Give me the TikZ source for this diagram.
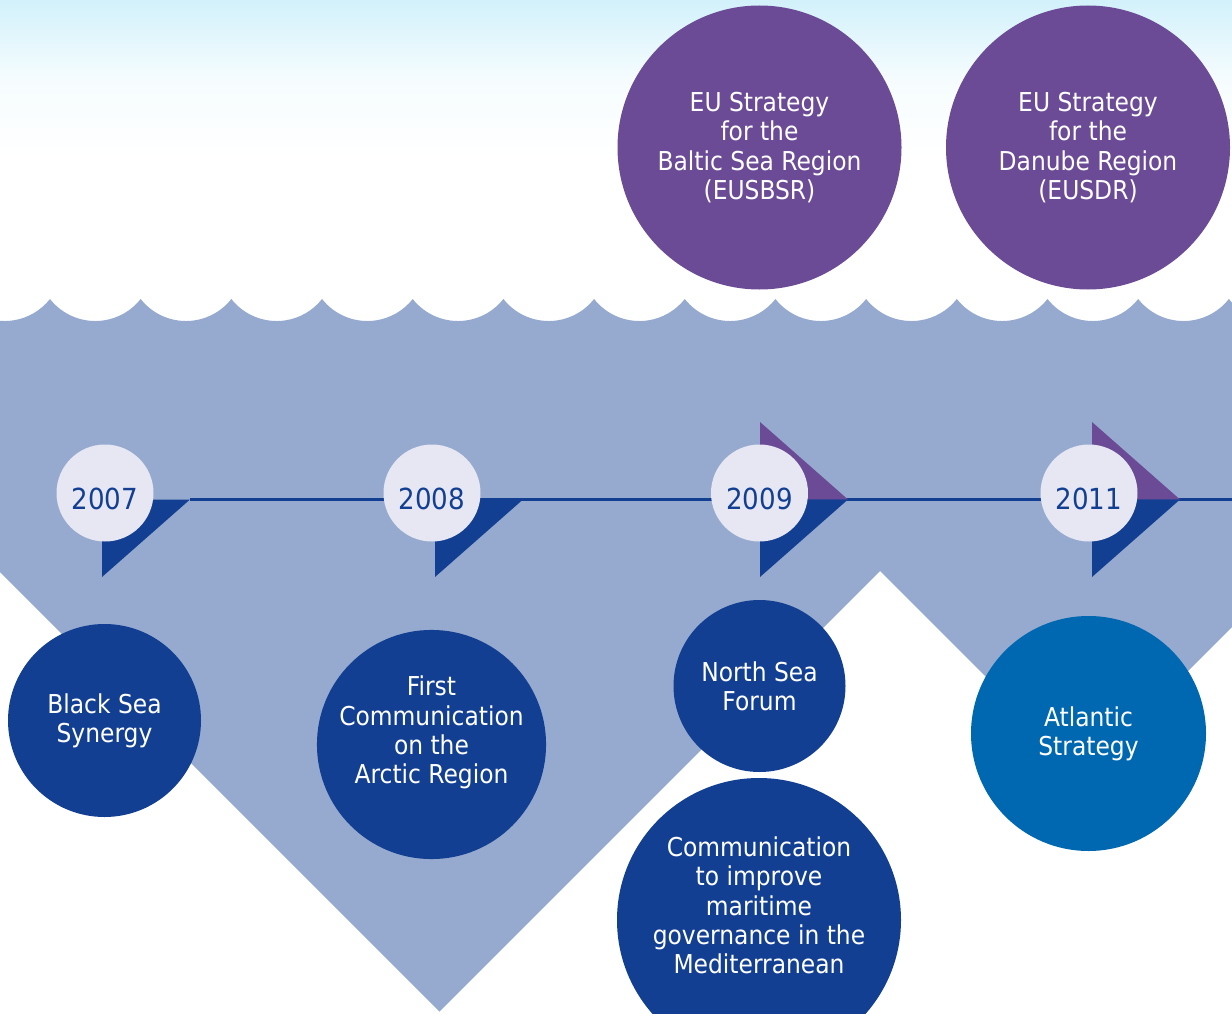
\documentclass[tikz,border=0pt]{standalone}
\usepackage{fontspec}
\setmainfont{DejaVu Sans Condensed}
\usetikzlibrary{positioning}

\definecolor{sky}{HTML}{D2F1FB}
\definecolor{sea}{HTML}{96AACF}
\definecolor{deepblue}{HTML}{133F92}
\definecolor{eupurple}{HTML}{6B4B96}
\definecolor{yearfill}{HTML}{E6E7F3}
\definecolor{atlantic}{HTML}{0067B1}

\begin{document}
\begin{tikzpicture}[
    x=1pt,y=-1pt,
    year/.style={circle,fill=yearfill,inner sep=0pt,minimum size=97pt,
      text=deepblue,text height=32pt,text depth=0pt,font=\fontsize{29}{32}\selectfont},
    event/.style={circle,fill=deepblue,inner sep=0pt,text=white,align=center,
      font=\fontsize{26}{29.3}\selectfont},
    timeline/.style={draw=deepblue,line width=3pt}
    ]

    \useasboundingbox (0,0) rectangle (1232,1014);
    \clip (0,0) rectangle (1232,1014);

    % sky:
    \shade[top color=sky,bottom color=white,middle color=white!80!sky]
      (0,0) rectangle (1232,160);

    % sea with waves:
    \fill[sea] (-40.7,299)
      \foreach \k in {0,...,14} { arc[start angle=141.8,end angle=38.2,radius=57.7] }
      -- (1320,539) -- (1084,775) -- (880,571) -- (439.5,1011.5) -- (-40,532) -- cycle;

    % time line:
    \coordinate (tip2007) at (190,499.5);
    \coordinate (lineend) at (1232,499.5);
    \draw[timeline] (tip2007) -- (lineend);

    % purple flags:
    \foreach \e in {760,1092}
      \fill[eupurple] (\e,499.5) -- ++(0,-77.5) -- ++(88,77.5) -- cycle;

    % blue flags:
    \foreach \e in {102,435,760,1092}
      \fill[deepblue] (\e,499.5) -- ++(0,77.5) -- ++(88,-77.5) -- cycle;

    % years:
    \foreach \x/\n in {105/2007,432/2008,759.5/2009,1089/2011}
      \node (y\n) at (\x,493) [year] {\n};

    % top events:
    \node (baltic) at (759.5,147.5) [event,fill=eupurple,minimum size=284pt]
      {EU Strategy\\for the\\Baltic Sea Region\\(EUSBSR)};
    \node (danube) at (1088,147.5) [event,fill=eupurple,minimum size=284pt]
      {EU Strategy\\for the\\Danube Region\\(EUSDR)};

    % bottom events:
    \node (blacksea) at (104.5,720.5) [event,minimum size=193pt] {Black Sea\\Synergy};
    \node (arctic) at (431.5,744.5) [event,minimum size=229pt]
      {First\\Communication\\on the\\Arctic Region\\\mbox{}};
    \node (northsea) at (759.5,686) [event,minimum size=172pt] {North Sea\\Forum};
    \node (medit) at (759,920) [event,minimum size=284pt]
      {Communication\\to improve\\maritime\\governance in the\\Mediterranean\\\mbox{}};
    \node (atlantic) at (1088.5,733.5) [event,fill=atlantic,minimum size=235pt]
      {Atlantic\\Strategy};

  \end{tikzpicture}
\end{document}
